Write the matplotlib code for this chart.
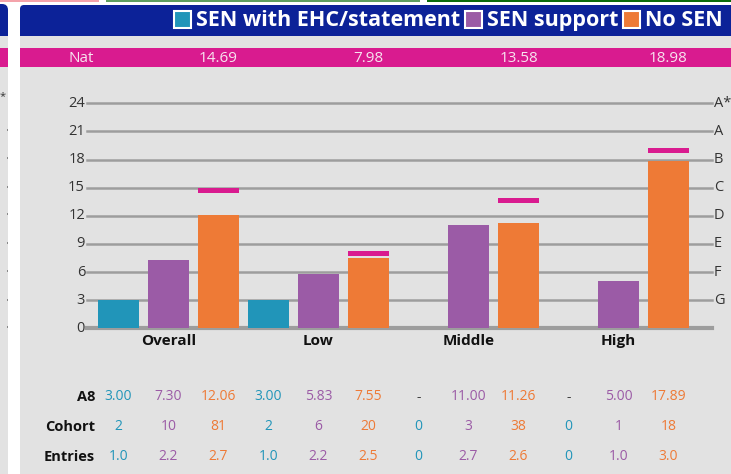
import matplotlib
matplotlib.use('Agg')
import matplotlib.pyplot as plt
from matplotlib.patches import Rectangle, FancyBboxPatch

plt.rcParams['font.family'] = ['Open Sans', 'DejaVu Sans']

categories = ['Overall', 'Low', 'Middle', 'High']
series = ['SEN with EHC/statement', 'SEN support', 'No SEN']
colors = ['#2195b9', '#9b5ba6', '#ee7a36']

# A8 average per series per category (None = no pupils)
a8_ehc = [3.00, 3.00, None, None]
a8_support = [7.30, 5.83, 11.00, 5.00]
a8_nosen = [12.06, 7.55, 11.26, 17.89]

cohort_ehc = [2, 2, 0, 0]
cohort_support = [10, 6, 3, 1]
cohort_nosen = [81, 20, 38, 18]

entries_ehc = [1.0, 1.0, 0, 0]
entries_support = [2.2, 2.2, 2.7, 1.0]
entries_nosen = [2.7, 2.5, 2.6, 3.0]

nat = [14.69, 7.98, 13.58, 18.98]

y_ticks = [0, 3, 6, 9, 12, 15, 18, 21, 24]
grades = ['', 'G', 'F', 'E', 'D', 'C', 'B', 'A', 'A*']

a8 = [a8_ehc, a8_support, a8_nosen]
cohort = [cohort_ehc, cohort_support, cohort_nosen]
entries = [entries_ehc, entries_support, entries_nosen]

NAVY = '#0c2298'
PINK = '#d91b8f'
GREY = '#e2e2e2'
GRID = '#9d9d9d'

W, H = 731, 474
fig = plt.figure(figsize=(W / 100, H / 100), dpi=100)
fig.patch.set_facecolor('white')

# background layer in pixel coordinates
bg = fig.add_axes([0, 0, 1, 1])
bg.set_xlim(0, W)
bg.set_ylim(H, 0)
bg.axis('off')

bg.add_patch(Rectangle((0, 0), 99, 1.5, color='#f4a3ab', lw=0))
bg.add_patch(Rectangle((106, 0), 314, 1.5, color='#5f9f5f', lw=0))
bg.add_patch(Rectangle((427, 0), 304, 1.5, color='#0b6b0b', lw=0))

# neighbouring panel remnant on the far left
bg.add_patch(Rectangle((0, 36), 8, H, color=GREY, lw=0))
bg.add_patch(FancyBboxPatch((-20, 4), 28, 32, boxstyle='round,pad=0,rounding_size=6',
                            color=NAVY, lw=0))
bg.add_patch(Rectangle((0, 20), 8, 16, color=NAVY, lw=0))
bg.add_patch(Rectangle((0, 48), 8, 19, color=PINK, lw=0))
bg.text(0, 97, '*', fontsize=8, color='#333333', va='center', ha='left')
for yy in [130, 158, 187, 214, 243, 271, 300, 327]:
    bg.add_patch(Rectangle((6.5, yy - 1), 1.5, 2, color='#888888', lw=0))

# main panel
bg.add_patch(Rectangle((20, 36), W, H, color=GREY, lw=0))
bg.add_patch(FancyBboxPatch((20, 5), W, 31, boxstyle='round,pad=0,rounding_size=4',
                            color=NAVY, lw=0))
bg.add_patch(Rectangle((20, 22), W, 14, color=NAVY, lw=0))
bg.add_patch(Rectangle((20, 48), W, 19, color=PINK, lw=0))

# legend, laid out right to left
fig.canvas.draw()
renderer = fig.canvas.get_renderer()
x_right = 723
for name, col in reversed(list(zip(series, colors))):
    t = bg.text(x_right, 20.5, name, fontsize=15.5, fontweight='bold', color='white',
                ha='right', va='center')
    bb = t.get_window_extent(renderer)
    x_left = x_right - bb.width
    bg.add_patch(Rectangle((x_left - 5 - 17, 10.5), 17, 17, facecolor=col,
                           edgecolor='white', lw=1.5))
    x_right = x_left - 5 - 17 - 5

# chart axes
x0_px, slot_px, ybase_px, ytop_px = 118.5, 50, 328.3, 103.3
ax = fig.add_axes([87 / W, 1 - ybase_px / H, (712 - 87) / W, (ybase_px - ytop_px) / H])
ax.set_xlim((87 - x0_px) / slot_px, (712 - x0_px) / slot_px)
ax.set_ylim(0, 24)
ax.axis('off')
ax.patch.set_visible(False)

for v, g in zip(y_ticks, grades):
    ax.axhline(v, color=GRID, lw=3 if v == 0 else 1.8, zorder=1, clip_on=False)
    ax.text((85 - x0_px) / slot_px, v, str(v), ha='right', va='center',
            fontsize=10.5, color='#333333')
    if g:
        ax.text((714 - x0_px) / slot_px, v, g, ha='left', va='center',
                fontsize=10.5, color='#333333')

for s, col in enumerate(colors):
    xs = [c * 3 + s for c in range(len(categories))]
    vals = [v if v is not None else 0 for v in a8[s]]
    ax.bar(xs, vals, width=0.82, color=col, zorder=2)

# national comparison markers above the No SEN bars
nat_x = [c * 3 + 2 for c in range(len(categories))]
ax.bar(nat_x, 0.55, bottom=[n - 0.25 for n in nat], width=0.82, color=PINK,
       lw=0, zorder=3)

for c, cat in enumerate(categories):
    ax.text(c * 3 + 1, -1.35, cat, ha='center', va='center', fontsize=11,
            fontweight='bold', color='#111111', clip_on=False)

# Nat row
bg.text(81, 58, 'Nat', ha='center', va='center', fontsize=11, color='#f7e4ef')
for c, n in enumerate(nat):
    bg.text(x0_px + slot_px * (c * 3 + 2), 58, f'{n:.2f}', ha='center', va='center',
            fontsize=11, color='#f7e4ef')

# table below the chart
rows = [('A8', 397), ('Cohort', 427), ('Entries', 457)]
for label, yy in rows:
    bg.text(95, yy, label, ha='right', va='center', fontsize=10.5,
            fontweight='bold', color='#111111')

for c in range(len(categories)):
    for s, col in enumerate(colors):
        xx = x0_px + slot_px * (c * 3 + s)
        v = a8[s][c]
        if v is None:
            bg.text(xx, 397, '-', ha='center', va='center', fontsize=10, color='#444444')
        else:
            bg.text(xx, 397, f'{v:.2f}', ha='center', va='center', fontsize=10, color=col)
        bg.text(xx, 427, str(cohort[s][c]), ha='center', va='center', fontsize=10, color=col)
        e = entries[s][c]
        bg.text(xx, 457, f'{e:.1f}' if e else '0', ha='center', va='center',
                fontsize=10, color=col)

fig.savefig('out.png', dpi=100, facecolor='white')
